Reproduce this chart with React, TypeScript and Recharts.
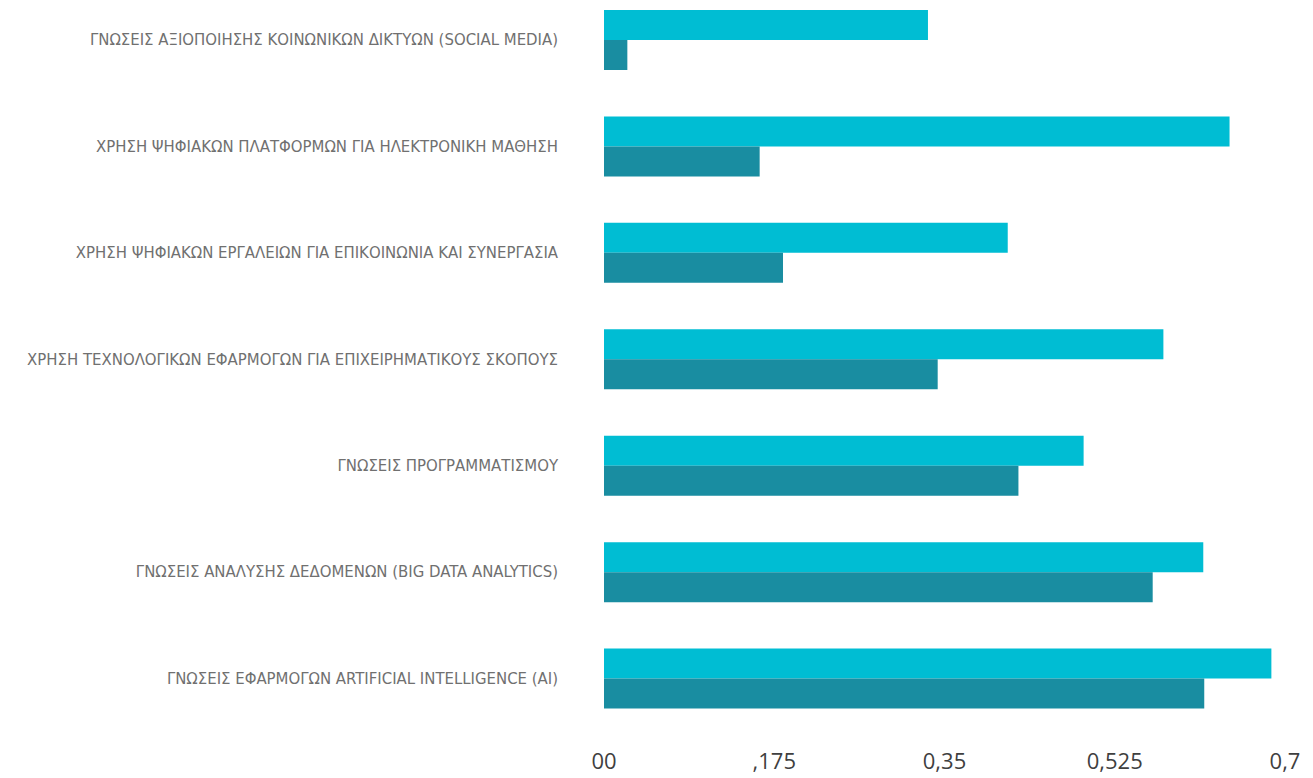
import { BarChart, Bar, XAxis, YAxis } from 'recharts';

const categories = [
  'ΓΝΩΣΕΙΣ ΑΞΙΟΠΟΙΗΣΗΣ ΚΟΙΝΩΝΙΚΩΝ ΔΙΚΤΥΩΝ (SOCIAL MEDIA)',
  'ΧΡΗΣΗ ΨΗΦΙΑΚΩΝ ΠΛΑΤΦΟΡΜΩΝ ΓΙΑ ΗΛΕΚΤΡΟΝΙΚΗ ΜΑΘΗΣΗ',
  'ΧΡΗΣΗ ΨΗΦΙΑΚΩΝ ΕΡΓΑΛΕΙΩΝ ΓΙΑ ΕΠΙΚΟΙΝΩΝΙΑ ΚΑΙ ΣΥΝΕΡΓΑΣΙΑ',
  'ΧΡΗΣΗ ΤΕΧΝΟΛΟΓΙΚΩΝ ΕΦΑΡΜΟΓΩΝ ΓΙΑ ΕΠΙΧΕΙΡΗΜΑΤΙΚΟΥΣ ΣΚΟΠΟΥΣ',
  'ΓΝΩΣΕΙΣ ΠΡΟΓΡΑΜΜΑΤΙΣΜΟΥ',
  'ΓΝΩΣΕΙΣ ΑΝΑΛΥΣΗΣ ΔΕΔΟΜΕΝΩΝ (BIG DATA ANALYTICS)',
  'ΓΝΩΣΕΙΣ ΕΦΑΡΜΟΓΩΝ ARTIFICIAL INTELLIGENCE (AI)',
];

const seriesA = [0.333, 0.643, 0.415, 0.575, 0.493, 0.616, 0.686];
const seriesB = [0.024, 0.16, 0.184, 0.343, 0.426, 0.564, 0.617];

const xTicks = [0, 0.175, 0.35, 0.525, 0.7];
const xTickLabels = ['00', ',175', '0,35', '0,525', '0,7'];

const data = categories.map((name, i) => ({ name, a: seriesA[i], b: seriesB[i] }));

function XTick({ x, y, payload, index }: any) {
  return (
    <text
      x={x}
      y={y}
      dy={29}
      textAnchor="middle"
      fontSize={22}
      fontFamily="'Open Sans', sans-serif"
      fill="#3f3f3f"
    >
      {xTickLabels[index] ?? String(payload.value)}
    </text>
  );
}

function YTick({ x, y, payload }: any) {
  return (
    <text
      x={x}
      y={y}
      dy={5}
      textAnchor="end"
      fontSize={16.6}
      fontFamily="'Liberation Sans Narrow', 'DejaVu Sans Condensed', sans-serif"
      fill="#707070"
    >
      {payload.value}
    </text>
  );
}

export default function App() {
  return (
    <div style={{ marginTop: -21, fontFamily: 'sans-serif' }}>
      <BarChart
        width={1305}
        height={790}
        data={data}
        layout="vertical"
        margin={{ top: 0, right: 28, bottom: 5, left: 0 }}
        barGap={0}
        barCategoryGap={0}
      >
        <XAxis
          type="number"
          domain={[0, 0.7]}
          ticks={xTicks}
          axisLine={false}
          tickLine={false}
          height={40}
          tick={<XTick />}
          interval={0}
        />
        <YAxis
          type="category"
          dataKey="name"
          width={596}
          axisLine={false}
          tickLine={false}
          tickSize={0}
          tickMargin={46}
          tick={<YTick />}
          interval={0}
        />
        <Bar dataKey="a" fill="#00BDD3" barSize={30} isAnimationActive={false} />
        <Bar dataKey="b" fill="#198DA1" barSize={30} isAnimationActive={false} />
      </BarChart>
    </div>
  );
}
